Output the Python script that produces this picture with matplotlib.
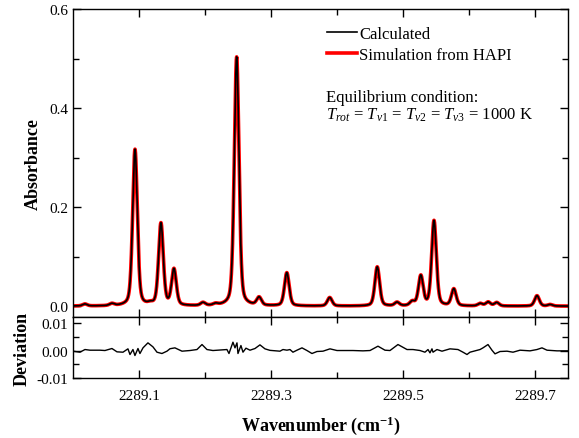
import numpy as np
import matplotlib
matplotlib.use('Agg')
import matplotlib.pyplot as plt
from matplotlib.ticker import FixedLocator, MultipleLocator, FormatStrFormatter

plt.rcParams['font.family'] = ['Liberation Serif', 'DejaVu Serif']
plt.rcParams['mathtext.fontset'] = 'custom'
plt.rcParams['mathtext.rm'] = 'Liberation Serif'
plt.rcParams['mathtext.it'] = 'Liberation Serif:italic'
plt.rcParams['mathtext.bf'] = 'Liberation Serif:bold'
plt.rcParams['axes.unicode_minus'] = False

# line list: centre (cm-1), peak absorbance, HWHM (cm-1)
line_centres = [2289.018, 2289.059, 2289.094, 2289.117, 2289.1333, 2289.153,
                2289.197, 2289.216, 2289.248, 2289.282, 2289.324, 2289.389,
                2289.461, 2289.491, 2289.514, 2289.527, 2289.547, 2289.577,
                2289.617, 2289.629, 2289.642, 2289.703, 2289.723]
line_heights = [0.004, 0.004, 0.316, 0.003, 0.166, 0.073,
                0.006, 0.003, 0.503, 0.016, 0.067, 0.017,
                0.079, 0.007, 0.008, 0.060, 0.172, 0.034,
                0.005, 0.008, 0.007, 0.021, 0.003]
line_hwhm = 0.0042
lorentz_frac = 0.35

# deviation (calculated - HAPI), in units of 1e-3
dev_wn = [2289.0000, 2289.0106, 2289.0182, 2289.0258, 2289.0409, 2289.0485,
          2289.0591, 2289.0667, 2289.0758, 2289.0833, 2289.0864, 2289.0909,
          2289.0939, 2289.0985, 2289.1015, 2289.1061, 2289.1136, 2289.1212,
          2289.1273, 2289.1348, 2289.1424, 2289.1470, 2289.1545, 2289.1652,
          2289.1773, 2289.1879, 2289.1955, 2289.2030, 2289.2121, 2289.2333,
          2289.2364, 2289.2424, 2289.2455, 2289.2485, 2289.2500, 2289.2545,
          2289.2576, 2289.2621, 2289.2682, 2289.2758, 2289.2833, 2289.2909,
          2289.2985, 2289.3136, 2289.3182, 2289.3242, 2289.3288, 2289.3333,
          2289.3394, 2289.3470, 2289.3545, 2289.3621, 2289.3697, 2289.3788,
          2289.3894, 2289.4000, 2289.4242, 2289.4394, 2289.4500, 2289.4621,
          2289.4727, 2289.4803, 2289.4924, 2289.5061, 2289.5152, 2289.5258,
          2289.5333, 2289.5379, 2289.5409, 2289.5439, 2289.5455, 2289.5515,
          2289.5591, 2289.5712, 2289.5833, 2289.5909, 2289.5970, 2289.6015,
          2289.6167, 2289.6212, 2289.6288, 2289.6348, 2289.6394, 2289.6470,
          2289.6576, 2289.6667, 2289.6773, 2289.6924, 2289.7030, 2289.7106,
          2289.7182, 2289.7333, 2289.7500]
dev_vals = [-0.24, -0.61, 0.36, 0.12, 0.12, 0.0,
            0.73, -0.48, -0.61, 0.61, -1.45, 0.36,
            -1.82, 0.73, -1.09, 0.97, 2.79, 1.33,
            -0.61, -1.09, -0.24, 0.65, 0.97, -0.24,
            0.0, 0.36, 2.18, 0.36, 0.0, 0.36,
            -1.09, 3.03, 0.97, 2.79, -1.09, 1.82,
            -0.61, 0.85, 0.12, 0.73, 2.06, 0.61,
            0.06, -0.24, 0.36, 0.12, 0.36, -0.61,
            0.12, 0.97, 0.0, -1.09, -0.36, -0.24,
            0.61, 0.0, 0.0, -0.12, 0.0, 1.58,
            0.12, 0.0, 2.18, 0.36, 0.36, 0.0,
            -0.61, 0.36, -0.85, 0.61, -0.61, 0.36,
            -0.24, 0.61, 0.36, -0.61, -1.45, -0.61,
            0.36, 0.97, 2.18, 0.12, -1.21, -0.36,
            -0.24, -0.61, 0.12, -0.12, 0.36, 0.97,
            0.12, -0.12, -0.12]

# build the spectrum from the line list (pseudo-Voigt profile)
wn = np.linspace(2289.0, 2289.75, 3001)
absorb = np.zeros_like(wn)
sigma = line_hwhm / np.sqrt(2 * np.log(2))
for c, h in zip(line_centres, line_heights):
    d = wn - c
    g = np.exp(-0.5 * (d / sigma) ** 2)
    l = 1.0 / (1.0 + (d / line_hwhm) ** 2)
    absorb += h * ((1 - lorentz_frac) * g + lorentz_frac * l)

fig = plt.figure(figsize=(5.79, 4.39), dpi=100)
ax1 = fig.add_axes([0.126, 0.2756, 0.855, 0.7016])
ax2 = fig.add_axes([0.126, 0.1367, 0.855, 0.1389])

ax1.plot(wn, absorb, color='#ff0000', lw=2.6, label='Simulation from HAPI', zorder=2)
ax1.plot(wn, absorb, color='black', lw=1.2, label='Calculated', zorder=3)
ax2.plot(dev_wn, np.array(dev_vals) * 1e-3, color='black', lw=1.0)

for ax in (ax1, ax2):
    ax.set_xlim(2289.0, 2289.75)
    ax.xaxis.set_major_locator(FixedLocator([2289.1, 2289.3, 2289.5, 2289.7]))
    ax.xaxis.set_minor_locator(FixedLocator([2289.2, 2289.4, 2289.6]))
    ax.xaxis.set_major_formatter(FormatStrFormatter('%.1f'))
    ax.tick_params(which='both', direction='in', top=True, right=True, labelsize=11)
    ax.tick_params(which='major', length=6, width=1)
    ax.tick_params(which='minor', length=4, width=1)
    for s in ax.spines.values():
        s.set_linewidth(1.0)

ax1.set_ylim(-0.022, 0.6)
ax1.yaxis.set_major_locator(MultipleLocator(0.2))
ax1.yaxis.set_minor_locator(MultipleLocator(0.1))
ax1.yaxis.set_major_formatter(FormatStrFormatter('%.1f'))
ax1.tick_params(labelbottom=False)
ax1.set_ylabel('Absorbance', fontsize=13, fontweight='bold')
ax1.yaxis.set_label_coords(-0.062, 0.5)

ax2.set_ylim(-0.01, 0.0122)
ax2.yaxis.set_major_locator(FixedLocator([-0.01, 0.0, 0.01]))
ax2.yaxis.set_minor_locator(FixedLocator([-0.005, 0.005]))
ax2.yaxis.set_major_formatter(FormatStrFormatter('%.2f'))
ax2.tick_params(axis='x', which='major', pad=8)
ax2.set_ylabel('Deviation', fontsize=13, fontweight='bold')
ax2.yaxis.set_label_coords(-0.085, 0.5)
ax2.set_xlabel('Wavenumber (cm$^{\\mathbf{-1}}$)', fontsize=13, fontweight='bold',
               labelpad=8)

handles, labels = ax1.get_legend_handles_labels()
ax1.legend(handles[::-1], labels[::-1], loc='upper left', bbox_to_anchor=(0.513, 0.945),
           frameon=False, fontsize=12, handlelength=1.8, handletextpad=0.15,
           borderpad=0, borderaxespad=0, labelspacing=0.3)

ax1.text(0.511, 0.701, 'Equilibrium condition:', transform=ax1.transAxes,
         fontsize=12, va='baseline')
ax1.text(0.511, 0.643, '$T_{rot}$ = $T_{v1}$ = $T_{v2}$ = $T_{v3}$ = 1000 K',
         transform=ax1.transAxes, fontsize=12, va='baseline')

fig.savefig('out.png', dpi=100)
